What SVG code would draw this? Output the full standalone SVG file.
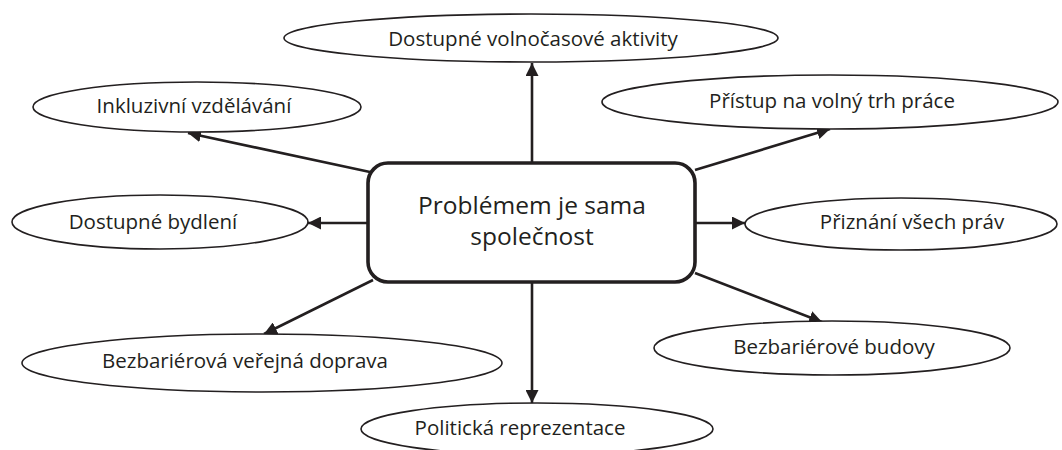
<svg xmlns="http://www.w3.org/2000/svg" width="1062" height="450" viewBox="0 0 1062 450">
<style>
.el{fill:#fff;stroke:#231f20;stroke-width:1.6}
.t{font-family:"Open Sans","Noto Sans",sans-serif;font-size:20.5px;fill:#231f20;text-anchor:middle}
.tc{font-family:"Open Sans","Noto Sans",sans-serif;font-size:24.5px;fill:#231f20;text-anchor:middle}
.c{stroke:#231f20;stroke-width:2.6;fill:none}
</style>
<defs>
<marker id="ah" viewBox="0 0 13 13" refX="13" refY="6.5" markerWidth="13" markerHeight="13" markerUnits="userSpaceOnUse" orient="auto">
<path d="M0,0 L13,6.5 L0,13 Z" fill="#231f20"/>
</marker>
</defs>
<rect width="1062" height="450" fill="#fff"/>
<g id="connectors">
<line class="c" x1="532" y1="163" x2="532" y2="63" marker-end="url(#ah)"/>
<line class="c" x1="370" y1="172" x2="188" y2="133" marker-end="url(#ah)"/>
<line class="c" x1="695" y1="170" x2="830" y2="129" marker-end="url(#ah)"/>
<line class="c" x1="368" y1="223" x2="308" y2="223" marker-end="url(#ah)"/>
<line class="c" x1="695" y1="223" x2="745" y2="223" marker-end="url(#ah)"/>
<line class="c" x1="373" y1="280" x2="264" y2="334" marker-end="url(#ah)"/>
<line class="c" x1="532" y1="283" x2="532" y2="403" marker-end="url(#ah)"/>
<line class="c" x1="695" y1="273" x2="822" y2="322" marker-end="url(#ah)"/>
</g>
<g id="n-top"><ellipse class="el" cx="531" cy="38" rx="247" ry="24"/><text class="t" x="533" y="46">Dostupné volnočasové aktivity</text></g>
<g id="n-inkluzivni"><ellipse class="el" cx="197" cy="107" rx="164" ry="25"/><text class="t" x="194" y="113">Inkluzivní vzdělávání</text></g>
<g id="n-pristup"><ellipse class="el" cx="830" cy="102" rx="228" ry="27"/><text class="t" x="832" y="108">Přístup na volný trh práce</text></g>
<g id="n-bydleni"><ellipse class="el" cx="160" cy="222" rx="148" ry="27"/><text class="t" x="153" y="229">Dostupné bydlení</text></g>
<g id="n-prava"><ellipse class="el" cx="901" cy="224" rx="156" ry="26"/><text class="t" x="912" y="229">Přiznání všech práv</text></g>
<g id="n-doprava"><ellipse class="el" cx="262" cy="363" rx="240" ry="29"/><text class="t" x="245" y="368">Bezbariérová veřejná doprava</text></g>
<g id="n-politicka"><ellipse class="el" cx="537" cy="429" rx="176" ry="26"/><text class="t" x="520" y="435">Politická reprezentace</text></g>
<g id="n-budovy"><ellipse class="el" cx="832" cy="348" rx="178" ry="27"/><text class="t" x="834" y="354">Bezbariérové budovy</text></g>
<g id="n-center"><rect x="368" y="163" width="327" height="119" rx="20" fill="#fff" stroke="#231f20" stroke-width="3.6"/>
<text class="tc" x="532" y="214">Problémem je sama</text><text class="tc" x="532" y="245">společnost</text></g>
</svg>
